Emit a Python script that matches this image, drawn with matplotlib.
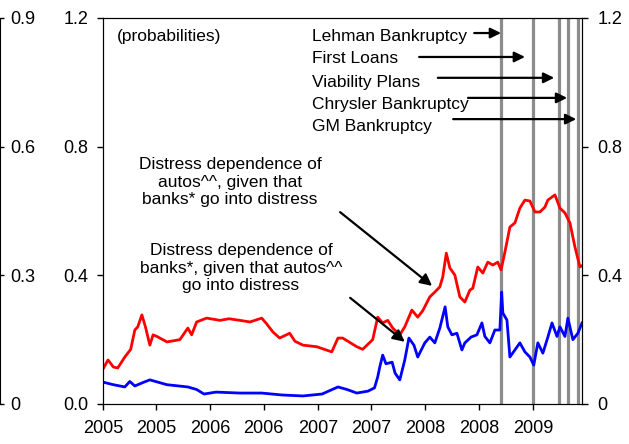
import numpy as np
import pandas as pd
import matplotlib
matplotlib.use('Agg')
import matplotlib.pyplot as plt
import matplotlib.dates as mdates

plt.rcParams['font.family'] = ['Liberation Sans', 'DejaVu Sans']

# distress dependence of autos, given banks go into distress (red)
red_dates = ['2005-01-01', '2005-01-18', '2005-02-05', '2005-02-20', '2005-03-16', '2005-04-05',
             '2005-04-19', '2005-04-29', '2005-05-13', '2005-05-25', '2005-06-09', '2005-06-20',
             '2005-07-03', '2005-08-06', '2005-09-19', '2005-10-16', '2005-10-29', '2005-11-15',
             '2005-12-19', '2006-02-02', '2006-03-05', '2006-04-11', '2006-05-15', '2006-06-24',
             '2006-07-10', '2006-08-01', '2006-08-24', '2006-09-27', '2006-10-15', '2006-11-11',
             '2006-12-28', '2007-02-17', '2007-03-10', '2007-03-26', '2007-05-13', '2007-06-02',
             '2007-07-06', '2007-07-23', '2007-08-09', '2007-08-26', '2007-09-12', '2007-10-06',
             '2007-10-23', '2007-11-16', '2007-12-06', '2007-12-23', '2008-01-16', '2008-02-02',
             '2008-02-19', '2008-02-29', '2008-03-12', '2008-03-24', '2008-04-10', '2008-04-27',
             '2008-05-14', '2008-05-31', '2008-06-10', '2008-06-27', '2008-07-14', '2008-07-31',
             '2008-08-17', '2008-09-03', '2008-09-14', '2008-09-27', '2008-10-14', '2008-10-31',
             '2008-11-17', '2008-12-04', '2008-12-21', '2009-01-07', '2009-01-24', '2009-02-10',
             '2009-02-20', '2009-03-16', '2009-04-02', '2009-04-19', '2009-05-06', '2009-05-23',
             '2009-06-09', '2009-06-16']
red_vals = [0.109, 0.137, 0.115, 0.112, 0.146, 0.17,
            0.23, 0.24, 0.277, 0.24, 0.183, 0.215,
            0.21, 0.193, 0.2, 0.236, 0.215, 0.255,
            0.267, 0.26, 0.265, 0.26, 0.255, 0.267,
            0.25, 0.224, 0.205, 0.22, 0.195, 0.183,
            0.178, 0.162, 0.205, 0.205, 0.178, 0.17,
            0.2, 0.27, 0.252, 0.26, 0.236, 0.215,
            0.24, 0.292, 0.27, 0.29, 0.333, 0.348,
            0.364, 0.395, 0.469, 0.423, 0.401, 0.333,
            0.317, 0.354, 0.36, 0.426, 0.407, 0.441,
            0.432, 0.441, 0.417, 0.472, 0.55, 0.563,
            0.609, 0.634, 0.631, 0.597, 0.597, 0.612,
            0.634, 0.65, 0.609, 0.594, 0.563, 0.488,
            0.426, 0.43]

# distress dependence of banks, given autos go into distress (blue)
blue_dates = ['2005-01-01', '2005-02-05', '2005-03-16', '2005-04-02', '2005-04-19', '2005-05-20',
              '2005-06-09', '2005-08-06', '2005-10-16', '2005-11-15', '2005-12-10', '2006-01-20',
              '2006-04-11', '2006-06-24', '2006-09-01', '2006-11-11', '2007-01-15', '2007-03-10',
              '2007-04-10', '2007-05-13', '2007-06-20', '2007-07-12', '2007-07-23', '2007-07-30',
              '2007-08-09', '2007-08-20', '2007-09-10', '2007-09-20', '2007-10-06', '2007-10-23',
              '2007-11-06', '2007-11-23', '2007-12-06', '2007-12-30', '2008-01-16', '2008-02-02',
              '2008-02-19', '2008-03-08', '2008-03-17', '2008-03-31', '2008-04-17', '2008-05-04',
              '2008-05-14', '2008-06-04', '2008-06-24', '2008-07-11', '2008-07-21', '2008-08-07',
              '2008-08-24', '2008-09-10', '2008-09-16', '2008-09-20', '2008-10-04', '2008-10-14',
              '2008-10-31', '2008-11-17', '2008-12-04', '2008-12-21', '2009-01-03', '2009-01-17',
              '2009-02-03', '2009-02-20', '2009-03-06', '2009-03-23', '2009-04-02', '2009-04-19',
              '2009-04-29', '2009-05-16', '2009-06-02', '2009-06-16']
blue_vals = [0.068, 0.06, 0.053, 0.07, 0.056, 0.068,
             0.075, 0.06, 0.053, 0.045, 0.031, 0.037,
             0.034, 0.034, 0.028, 0.025, 0.031, 0.053,
             0.045, 0.034, 0.04, 0.05, 0.084, 0.115,
             0.152, 0.125, 0.13, 0.096, 0.075, 0.137,
             0.205, 0.183, 0.146, 0.19, 0.208, 0.19,
             0.236, 0.302, 0.24, 0.215, 0.22, 0.168,
             0.19, 0.208, 0.215, 0.252, 0.21, 0.19,
             0.23, 0.23, 0.348, 0.283, 0.261, 0.146,
             0.168, 0.19, 0.162, 0.146, 0.121, 0.19,
             0.158, 0.208, 0.252, 0.21, 0.24, 0.21,
             0.267, 0.2, 0.22, 0.252]

event_labels = ['Lehman Bankruptcy', 'First Loans', 'Viability Plans',
                'Chrysler Bankruptcy', 'GM Bankruptcy']
event_dates = ['2008-09-15', '2008-12-31', '2009-03-30', '2009-04-30', '2009-06-01']

left_ticks = [0.0, 0.4, 0.8, 1.2]
left_labels = ['0.0', '0.4', '0.8', '1.2']
right_labels = ['0', '0.4', '0.8', '1.2']
outer_ticks = [0, 0.3, 0.6, 0.9]
outer_labels = ['0', '0.3', '0.6', '0.9']


def main():
    fig = plt.figure(figsize=(6.29, 4.44), dpi=100)
    ax = fig.add_axes([0.1638, 0.0901, 0.7615, 0.8694])

    for d in event_dates:
        ax.axvline(pd.Timestamp(d), color='#8c8c8c', lw=2.3, zorder=1)

    ax.plot(pd.to_datetime(red_dates), red_vals, color='#ff0000', lw=2.0, zorder=3)
    ax.plot(pd.to_datetime(blue_dates), blue_vals, color='#0000ff', lw=2.0, zorder=3)

    ax.set_xlim(pd.Timestamp('2005-01-01'), pd.Timestamp('2009-06-16'))
    ax.set_ylim(0, 1.2)
    ax.set_yticks(left_ticks)
    ax.set_yticklabels(left_labels)
    ax.xaxis.set_major_locator(mdates.MonthLocator(bymonth=[1, 7]))
    ax.xaxis.set_major_formatter(mdates.DateFormatter('%Y'))
    ax.tick_params(axis='both', direction='out', length=4.3, width=1, labelsize=13, pad=6)
    ax.tick_params(axis='x', pad=7)

    # right axis
    axr = ax.twinx()
    axr.set_ylim(0, 1.2)
    axr.set_yticks(left_ticks)
    axr.set_yticklabels(right_labels)
    axr.tick_params(axis='y', direction='out', length=4.3, width=1, labelsize=13, pad=7)

    # outer left axis, mostly cut off at the figure edge
    axo = ax.twinx()
    axo.set_ylim(0, 0.9)
    axo.set_yticks(outer_ticks)
    axo.set_yticklabels(outer_labels)
    axo.spines['right'].set_position(('axes', -0.216))
    for s in ['top', 'left', 'bottom']:
        axo.spines[s].set_visible(False)
    axo.tick_params(axis='y', direction='out', length=3, width=1, labelsize=13, pad=5)

    ax.text(0.029, 0.951, '(probabilities)', transform=ax.transAxes,
            ha='left', va='center', fontsize=12.5)

    # event labels and arrows
    label_y = [0.951, 0.894, 0.834, 0.777, 0.718]
    arrow_y = [0.961, 0.899, 0.845, 0.793, 0.738]
    arrow_x0 = [0.775, 0.660, 0.699, 0.762, 0.731]
    arrow_x1 = [0.831, 0.881, 0.942, 0.969, 0.988]
    for i in range(len(event_labels)):
        ax.text(0.436, label_y[i], event_labels[i], transform=ax.transAxes,
                ha='left', va='center', fontsize=12.5, zorder=5)
        ax.annotate('', xy=(arrow_x1[i], arrow_y[i]), xycoords='axes fraction',
                    xytext=(arrow_x0[i], arrow_y[i]), textcoords='axes fraction',
                    arrowprops=dict(arrowstyle='-|>,head_length=0.45,head_width=0.22',
                                    color='black', lw=1.6, mutation_scale=14,
                                    shrinkA=0, shrinkB=0))

    ax.text(0.265, 0.575, 'Distress dependence of\nautos^^, given that\nbanks* go into distress',
            transform=ax.transAxes, ha='center', va='center', fontsize=12.5,
            multialignment='center', linespacing=1.22)
    ax.annotate('', xy=(0.687, 0.306), xycoords='axes fraction',
                xytext=(0.495, 0.497), textcoords='axes fraction',
                arrowprops=dict(arrowstyle='-|>,head_length=0.5,head_width=0.25',
                                color='black', lw=1.6, mutation_scale=14,
                                shrinkA=0, shrinkB=0))

    ax.text(0.288, 0.352, 'Distress dependence of\nbanks*, given that autos^^\ngo into distress',
            transform=ax.transAxes, ha='center', va='center', fontsize=12.5,
            multialignment='center', linespacing=1.22)
    ax.annotate('', xy=(0.630, 0.161), xycoords='axes fraction',
                xytext=(0.516, 0.275), textcoords='axes fraction',
                arrowprops=dict(arrowstyle='-|>,head_length=0.5,head_width=0.25',
                                color='black', lw=1.6, mutation_scale=14,
                                shrinkA=0, shrinkB=0))

    fig.savefig('out.png', dpi=100)
    plt.close(fig)


if __name__ == '__main__':
    main()
